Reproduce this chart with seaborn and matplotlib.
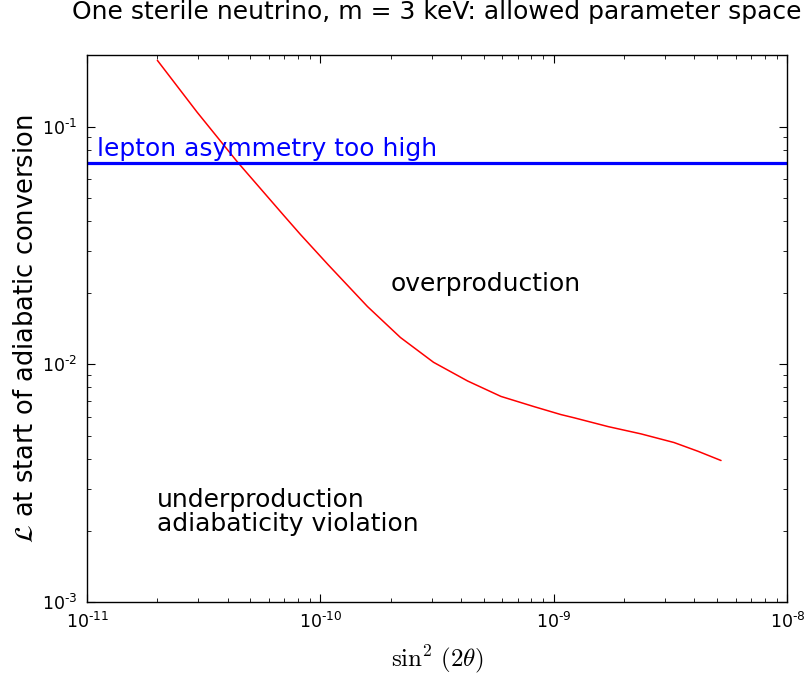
import numpy as np
import pandas as pd
import matplotlib
matplotlib.use("Agg")
import matplotlib.pyplot as plt
from matplotlib.ticker import FuncFormatter, LogLocator
import seaborn as sns

# Boundary between overproduction and underproduction (m = 3 keV)
sin2_2theta = [2.0e-11, 2.96e-11, 4.4e-11, 6.96e-11, 8.2e-11, 1.08e-10,
               1.59e-10, 2.2e-10, 3.05e-10, 4.27e-10, 5.93e-10, 8.22e-10,
               1.07e-9, 1.22e-9, 1.71e-9, 2.36e-9, 3.27e-9, 4.14e-9, 5.2e-9]
lepton_asym = [0.190, 0.115, 0.0711, 0.0423, 0.0352, 0.0262,
               0.0175, 0.01297, 0.0102, 0.00851, 0.00733, 0.00664,
               0.00615, 0.00596, 0.00547, 0.00510, 0.00469, 0.00431, 0.00394]

# Upper bound on the lepton asymmetry
L_max = 0.0706

x_limits = [1e-11, 1e-8]
y_limits = [1e-3, 0.2]

sns.set_style("ticks")
plt.rcParams.update({
    "font.family": ["DejaVu Sans"],
    "mathtext.fontset": "dejavusans",
    "text.color": "black",
    "axes.labelcolor": "black",
    "xtick.color": "black",
    "ytick.color": "black",
    "xtick.direction": "in",
    "ytick.direction": "in",
    "xtick.top": True,
    "ytick.right": True,
    "xtick.major.size": 6,
    "ytick.major.size": 6,
    "xtick.minor.size": 3,
    "ytick.minor.size": 3,
    "axes.edgecolor": "black",
    "axes.linewidth": 1.0,
})


def decade_label(v, pos):
    e = int(round(np.log10(v)))
    if e < 0:
        return r"$10^{\text{-}%d}$" % (-e)
    return r"$10^{%d}$" % e


fig = plt.figure(figsize=(8.1, 6.75), dpi=100)
ax = fig.add_axes([0.1075, 0.108, 0.8645, 0.8105])

df = pd.DataFrame({"s": sin2_2theta, "L": lepton_asym})
sns.lineplot(data=df, x="s", y="L", ax=ax, color="red", linewidth=1.1,
             estimator=None, sort=False)
ax.axhline(L_max, color="blue", linewidth=2.3)

ax.set_xscale("log")
ax.set_yscale("log")
ax.set_xlim(x_limits)
ax.set_ylim(y_limits)
ax.xaxis.set_major_locator(LogLocator(base=10))
ax.yaxis.set_major_locator(LogLocator(base=10))
ax.xaxis.set_major_formatter(FuncFormatter(decade_label))
ax.yaxis.set_major_formatter(FuncFormatter(decade_label))

ax.text(1.1e-11, 0.0755, "lepton asymmetry too high", color="blue",
        fontsize=18, va="baseline", ha="left")
ax.text(2e-10, 0.0203, "overproduction", color="black",
        fontsize=18, va="baseline", ha="left")
ax.text(2e-11, 0.0019, "underproduction\nadiabaticity violation", color="black",
        fontsize=18, va="bottom", ha="left", linespacing=1.0)

ax.set_title("One sterile neutrino, m = 3 keV: allowed parameter space",
             fontsize=18, pad=26, color="black")
ax.set_xlabel(r"$\sin^2\,(2\theta)$", fontsize=18, math_fontfamily="cm",
              labelpad=8)
ax.set_ylabel(r"$\mathcal{L}$ at start of adiabatic conversion", fontsize=18.5,
              labelpad=2)
ax.tick_params(axis="both", which="major", labelsize=12.5, pad=7)

fig.savefig("out.png", dpi=100)
